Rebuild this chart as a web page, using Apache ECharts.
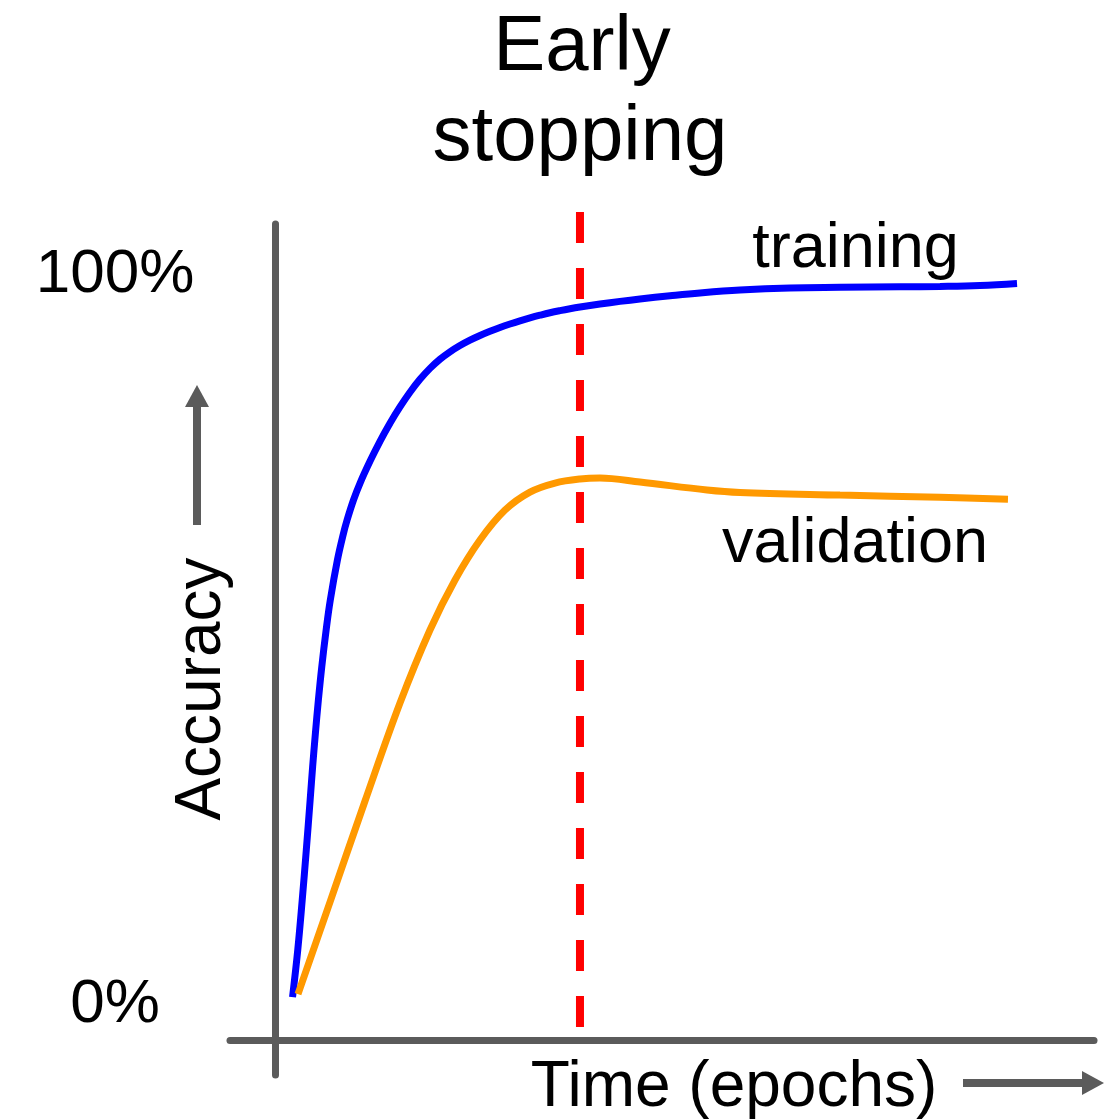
<!DOCTYPE html>
<html>
<head>
<meta charset="utf-8">
<script src="https://cdn.jsdelivr.net/npm/echarts@6/dist/echarts.min.js"></script>
<style>
  html, body { margin: 0; padding: 0; background: #fff; }
  #chart { width: 1108px; height: 1120px; }
</style>
</head>
<body>
<div id="chart"></div>
<script>
// ---- data ----
var trainEpochs = [2.13, 2.78, 3.34, 3.85, 4.33, 4.64, 4.99, 5.36, 5.78, 6.33, 6.85, 7.74, 8.50, 8.95, 9.75, 10.56, 11.81, 13.06, 14.31, 15.56, 16.81, 18.06, 19.31, 20.56, 21.81, 23.06, 24.31, 25.56, 26.81, 28.06, 29.31, 30.56, 31.81, 33.06, 34.31, 35.56, 36.81, 38.06, 40.56, 43.06, 45.56, 49.31, 53.06, 58.06, 64.31, 70.56, 78.06, 83.06, 88.06, 92.69];
var trainAccuracy = [1.08, 7.52, 14.37, 21.22, 28.07, 32.60, 37.25, 41.78, 46.30, 51.37, 55.48, 60.96, 64.62, 66.44, 69.18, 71.47, 74.48, 77.22, 79.70, 81.94, 83.95, 85.72, 87.22, 88.47, 89.49, 90.35, 91.09, 91.73, 92.31, 92.83, 93.30, 93.73, 94.13, 94.50, 94.84, 95.13, 95.39, 95.62, 96.03, 96.40, 96.73, 97.17, 97.56, 97.95, 98.23, 98.32, 98.39, 98.45, 98.58, 98.86];
var validEpochs = [2.81, 6.81, 11.19, 15.56, 19.31, 22.44, 25.56, 28.69, 31.81, 34.94, 38.06, 40.56, 45.56, 53.94, 58.06, 70.56, 83.06, 91.56];
var validAccuracy = [1.49, 14.10, 27.94, 41.36, 51.37, 58.22, 63.70, 67.81, 70.27, 71.51, 72.06, 72.19, 71.64, 70.55, 70.21, 69.86, 69.55, 69.27];
var stopEpoch = 38.06;
var stopLineRange = [108.65, -3.17];
var yTickValues = [0, 100];
var titleLines = ['Early', 'stopping'];
var xAxisTitle = 'Time (epochs)';
var yAxisTitle = 'Accuracy';
var seriesNames = ['training', 'validation'];

function pairs(xs, ys) { return xs.map(function (x, i) { return [x, ys[i]]; }); }

var GREY = '#5b5b5b';
var FONT = '"Liberation Sans", Arial, sans-serif';

var chart = echarts.init(document.getElementById('chart'), null, { renderer: 'canvas' });
chart.setOption({
  animation: false,
  backgroundColor: '#ffffff',
  grid: { left: 230, right: 14, top: 224, bottom: 45, containLabel: false },
  xAxis: {
    type: 'value', min: -5.6875, max: 102.3125, offset: -34.5,
    axisLine: { show: true, onZero: false, lineStyle: { color: GREY, width: 7 } },
    axisTick: { show: false }, axisLabel: { show: false }, splitLine: { show: false }
  },
  yAxis: {
    type: 'value', min: -9.6, max: 107, offset: -45.5,
    axisLine: { show: true, onZero: false, lineStyle: { color: GREY, width: 7 } },
    axisTick: { show: false }, splitLine: { show: false },
    axisLabel: {
      show: true, customValues: yTickValues, formatter: '{value}%',
      fontSize: 62, fontFamily: FONT, color: '#000', margin: 160.5, align: 'center',
      padding: [6, 0, 0, 0]
    }
  },
  series: [
    {
      name: seriesNames[0], type: 'line', data: pairs(trainEpochs, trainAccuracy),
      smooth: 0.4, symbol: 'none', lineStyle: { color: '#0000ff', width: 7 }
    },
    {
      name: seriesNames[1], type: 'line', data: pairs(validEpochs, validAccuracy),
      smooth: 0.35, symbol: 'none', lineStyle: { color: '#ff9900', width: 7 }
    },
    {
      name: 'stop', type: 'line', clip: false, symbol: 'none',
      data: [[stopEpoch, stopLineRange[0]], [stopEpoch, stopLineRange[1]]],
      lineStyle: { color: '#ff0000', width: 8, type: [31, 25] }
    }
  ],
  graphic: [
    { type: 'text', style: { text: titleLines[0], x: 582, y: 48, font: '78px ' + FONT, fill: '#000', align: 'center', verticalAlign: 'middle' } },
    { type: 'text', style: { text: titleLines[1], x: 580, y: 138, font: '78px ' + FONT, fill: '#000', align: 'center', verticalAlign: 'middle' } },
    { type: 'text', style: { text: seriesNames[0], x: 855.5, y: 249.5, font: '63px ' + FONT, fill: '#000', align: 'center', verticalAlign: 'middle' } },
    { type: 'text', style: { text: seriesNames[1], x: 855, y: 544.5, font: '63px ' + FONT, fill: '#000', align: 'center', verticalAlign: 'middle' } },
    { type: 'text', style: { text: xAxisTitle, x: 734, y: 1088, font: '64px ' + FONT, fill: '#000', align: 'center', verticalAlign: 'middle' } },
    { type: 'text', x: 202, y: 689, rotation: Math.PI / 2, style: { text: yAxisTitle, x: 0, y: 0, font: '64px ' + FONT, fill: '#000', align: 'center', verticalAlign: 'middle' } },
    // up arrow next to Accuracy
    { type: 'line', shape: { x1: 197, y1: 525, x2: 197, y2: 405 }, style: { stroke: GREY, lineWidth: 8 } },
    { type: 'polygon', shape: { points: [[197, 385], [185, 407], [209, 407]] }, style: { fill: GREY } },
    // right arrow next to Time (epochs)
    { type: 'line', shape: { x1: 963, y1: 1083, x2: 1084, y2: 1083 }, style: { stroke: GREY, lineWidth: 8 } },
    { type: 'polygon', shape: { points: [[1104, 1083], [1082, 1071], [1082, 1095]] }, style: { fill: GREY } }
  ]
});
</script>
</body>
</html>
